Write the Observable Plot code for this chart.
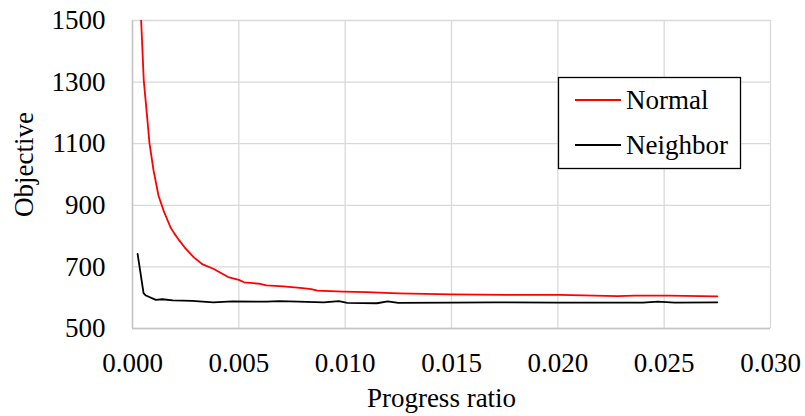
<!DOCTYPE html>
<html>
<head>
<meta charset="utf-8">
<script src="https://cdn.jsdelivr.net/npm/d3@7"></script>
<script src="https://cdn.jsdelivr.net/npm/@observablehq/plot@0.6"></script>
<style>
  html, body { margin: 0; padding: 0; background: #fff; }
  #chart { width: 805px; height: 416px; }
</style>
</head>
<body>
<div id="chart"></div>
<script>
// Objective value against progress ratio for the two search strategies
const seriesNames = ["Normal", "Neighbor"];
const seriesColors = ["#ff0000", "#000000"];

const normalX = [0.00040, 0.00053, 0.00066, 0.00080, 0.00099, 0.00122, 0.00146, 0.00179, 0.00197, 0.00220,
  0.00250, 0.00290, 0.00330, 0.00380, 0.00450, 0.00500, 0.00525, 0.00600, 0.00630, 0.00710,
  0.00800, 0.00840, 0.00870, 0.00990, 0.01100, 0.01250, 0.01500, 0.01760, 0.02010, 0.02280,
  0.02360, 0.02520, 0.02750];
const normalY = [1510, 1305, 1208, 1101, 1013, 932, 883, 828, 808, 786,
  759, 730, 708, 694, 667, 658, 650, 645, 640, 637,
  631, 628, 623, 620, 618, 614, 611, 609, 609, 605,
  607, 607, 604];

const neighborX = [0.00024, 0.00052, 0.00063, 0.00110, 0.00140, 0.00190, 0.00280, 0.00380, 0.00470, 0.00630,
  0.00690, 0.00780, 0.00900, 0.00970, 0.01010, 0.01150, 0.01200, 0.01250, 0.01500, 0.01700,
  0.02000, 0.02400, 0.02470, 0.02550, 0.02750];
const neighborY = [742, 615, 607, 593, 595, 591, 590, 585, 588, 587,
  589, 587, 585, 589, 583, 582, 588, 583, 584, 585,
  584, 584, 587, 584, 585];

const xTicks = [0, 0.005, 0.010, 0.015, 0.020, 0.025, 0.030];
const yTicks = [500, 700, 900, 1100, 1300, 1500];
const xTitle = "Progress ratio";
const yTitle = "Objective";

const rows = [
  ...normalX.map((x, i) => ({series: seriesNames[0], x, y: normalY[i]})),
  ...neighborX.map((x, i) => ({series: seriesNames[1], x, y: neighborY[i]}))
];

const font = "'Liberation Serif', 'Times New Roman', serif";
const grid = "#d9d9d9";

const chart = Plot.plot({
  width: 805,
  height: 416,
  marginLeft: 132,
  marginRight: 35,
  marginTop: 20,
  marginBottom: 88,
  style: {fontFamily: font, fontSize: "27px", color: "#000", background: "#fff", overflow: "visible"},
  x: {domain: [0, 0.03]},
  y: {domain: [500, 1500]},
  color: {domain: seriesNames, range: seriesColors},
  marks: [
    Plot.gridX(xTicks, {stroke: grid, strokeOpacity: 1, strokeWidth: 1.3}),
    Plot.gridY(yTicks, {stroke: grid, strokeOpacity: 1, strokeWidth: 1.3}),
    Plot.ruleX([0], {stroke: "#c4c4c4", strokeWidth: 1.5}),
    Plot.ruleY([500], {stroke: "#c4c4c4", strokeWidth: 1.5}),
    Plot.line(rows, {x: "x", y: "y", z: "series", stroke: "series", strokeWidth: 1.8, clip: true}),
    Plot.axisX({ticks: xTicks, tickSize: 0, tickPadding: 24, tickFormat: d3.format(".3f"), label: null, fill: "#000"}),
    Plot.axisY({ticks: yTicks, tickSize: 0, tickPadding: 27, tickFormat: d3.format("d"), label: null, fill: "#000"}),
    Plot.text([xTitle], {frameAnchor: "bottom", textAnchor: "middle", dy: 78, dx: -10, fill: "#000"}),
    Plot.text([yTitle], {frameAnchor: "left", textAnchor: "middle", rotate: -90, dx: -108, dy: -10, fill: "#000"})
  ]
});

document.getElementById("chart").appendChild(chart);

// Boxed legend in the upper right of the plotting area
const svg = d3.select(chart);
const legend = svg.append("g")
  .attr("font-family", font)
  .attr("font-size", 27)
  .attr("text-anchor", "start");
legend.append("rect")
  .attr("x", 558.5).attr("y", 77.5).attr("width", 182).attr("height", 91)
  .attr("fill", "#fff").attr("stroke", "#000").attr("stroke-width", 1.3);
seriesNames.forEach((name, i) => {
  const cy = 100 + i * 45;
  legend.append("line")
    .attr("x1", 575).attr("x2", 621).attr("y1", cy).attr("y2", cy)
    .attr("stroke", seriesColors[i]).attr("stroke-width", 1.8);
  legend.append("text")
    .attr("x", 626).attr("y", cy).attr("dy", "0.32em")
    .attr("text-anchor", "start")
    .attr("fill", "#000").text(name);
});
</script>
</body>
</html>
